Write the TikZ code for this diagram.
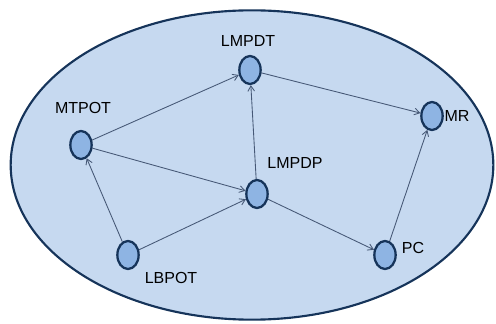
\documentclass[tikz,border=0pt]{standalone}
\usepackage{fontspec}
\setmainfont{Liberation Sans}
\usetikzlibrary{arrows.meta}
\usetikzlibrary{shapes.geometric}
\definecolor{figFondo}{RGB}{198,217,240}
\definecolor{figNodo}{RGB}{142,180,227}
\definecolor{figBorde}{RGB}{22,52,90}
\definecolor{figFlecha}{RGB}{70,88,118}
\tikzset{
  region/.style={
    ellipse, draw=figBorde, line width=1.6pt, fill=figFondo,
    minimum width=362pt, minimum height=232pt, inner sep=0pt
  },
  nodo/.style={
    ellipse, draw=figBorde, line width=1.7pt, fill=figNodo,
    minimum width=16pt, minimum height=21pt, inner sep=0pt
  },
  etiqueta/.style={
    font=\fontsize{12}{14}\selectfont, text=black, inner sep=1pt
  },
  flecha/.style={-{Straight Barb[length=4pt,width=5pt]}, line width=0.65pt, draw=figFlecha}
}

\begin{document}
\begin{tikzpicture}[x=0.75pt, y=-0.75pt]
  \useasboundingbox (0,0) rectangle (496,324);
  \node[region] (fondo) at (252,165) {};
  % nodos del grafo
  \node[nodo] (lmpdt) at (250,70) {};
  \node[nodo] (mtpot) at (81,145) {};
  \node[nodo] (lmpdp) at (257,194) {};
  \node[nodo] (mr) at (432,116) {};
  \node[nodo] (lbpot) at (128,255) {};
  \node[nodo] (pc) at (385,255) {};
  % etiquetas
  \node[etiqueta] (t-lmpdt) at (248,41) {LMPDT};
  \node[etiqueta] (t-mtpot) at (83,108) {MTPOT};
  \node[etiqueta] (t-lmpdp) at (295,163) {LMPDP};
  \node[etiqueta] (t-mr) at (457,116) {MR};
  \node[etiqueta] (t-lbpot) at (171,278) {LBPOT};
  \node[etiqueta] (t-pc) at (413,248) {PC};
  % aristas
  \draw[flecha] (mtpot) -- (lmpdt);
  \draw[flecha] (mtpot) -- (lmpdp);
  \draw[flecha] (lbpot) -- (mtpot);
  \draw[flecha] (lbpot) -- (lmpdp);
  \draw[flecha] (lmpdp) -- (lmpdt);
  \draw[flecha] (lmpdt) -- (mr);
  \draw[flecha] (lmpdp) -- (pc);
  \draw[flecha] (pc) -- (mr);
\end{tikzpicture}
\end{document}
